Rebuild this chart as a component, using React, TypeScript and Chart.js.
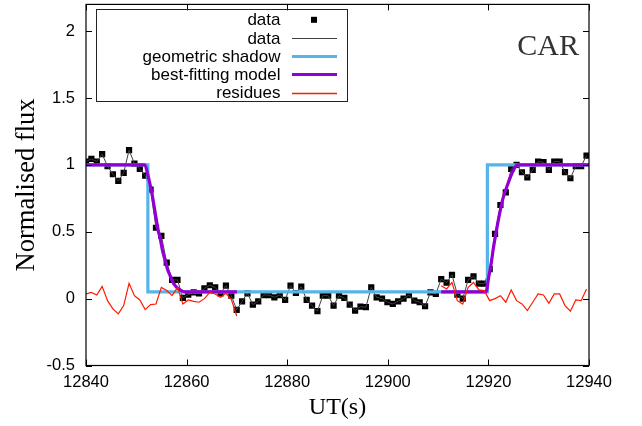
import React, { useEffect, useRef } from "react";
import { Chart, registerables } from "chart.js";

Chart.register(...registerables);

// ---- data ----
const timeS = [
  12840.0, 12841.07, 12842.14, 12843.21, 12844.28, 12845.35, 12846.42, 12847.49, 12848.56, 12849.63,
  12850.7, 12851.77, 12852.84, 12853.91, 12854.98, 12856.05, 12857.12, 12858.19, 12859.26, 12860.33,
  12861.4, 12862.47, 12863.54, 12864.61, 12865.68, 12866.75, 12867.82, 12868.89, 12869.96, 12871.03,
  12872.1, 12873.17, 12874.24, 12875.31, 12876.38, 12877.45, 12878.52, 12879.59, 12880.66, 12881.73,
  12882.8, 12883.87, 12884.94, 12886.01, 12887.08, 12888.15, 12889.22, 12890.29, 12891.36, 12892.43,
  12893.5, 12894.57, 12895.64, 12896.71, 12897.78, 12898.85, 12899.92, 12900.99, 12902.06, 12903.13,
  12904.2, 12905.27, 12906.34, 12907.41, 12908.48, 12909.55, 12910.62, 12911.69, 12912.76, 12913.83,
  12914.9, 12915.97, 12917.04, 12918.11, 12919.18, 12920.25, 12921.32, 12922.39, 12923.46, 12924.53,
  12925.6, 12926.67, 12927.74, 12928.81, 12929.88, 12930.95, 12932.02, 12933.09, 12934.16, 12935.23,
  12936.3, 12937.37, 12938.44, 12939.51,
];

const fluxData = [
  1.025, 1.045, 1.025, 1.08, 0.99, 0.93, 0.88, 0.94, 1.11, 1.01,
  0.97, 0.92, 0.815, 0.53, 0.47, 0.27, 0.14, 0.14, 0.005, 0.03,
  0.047, 0.04, 0.077, 0.1, 0.084, 0.04, 0.097, 0.022, -0.084, -0.02,
  0.04, -0.045, -0.02, 0.027, 0.027, 0.01, 0.027, -0.01, 0.097, 0.042,
  0.089, -0.01, -0.052, -0.094, 0.022, 0.022, -0.052, 0.022, 0.005, -0.045,
  -0.089, -0.06, -0.064, 0.084, 0.01, 0.0, -0.027, -0.04, -0.02, 0.0,
  0.027, -0.015, -0.027, -0.057, 0.047, 0.035, 0.146, 0.12, 0.178, 0.03,
  0.0, 0.14, 0.167, 0.112, 0.112, 0.22, 0.485, 0.7, 0.795, 0.97,
  1.0, 0.945, 0.906, 0.963, 1.025, 1.02, 0.963, 1.025, 1.025, 0.946,
  0.9, 0.99, 0.99, 1.07,
];

// residues: first 29 samples and last 28 samples
const residuesLeft = [
  0.035, 0.047, 0.027, 0.092, -0.015, -0.077, -0.114, -0.052, 0.114, 0.022,
  -0.01, -0.082, -0.045, -0.04, 0.084, 0.06, 0.022, 0.084, -0.04, -0.01,
  -0.02, -0.027, 0.0, 0.047, 0.035, 0.01, 0.04, -0.005, -0.13,
];
const residuesRight = [
  0.097, 0.072, 0.121, -0.015, -0.04, 0.084, 0.121, 0.065, 0.06, -0.015,
  0.0, 0.022, -0.027, 0.065, -0.015, -0.04, -0.089, -0.027, 0.035, 0.027,
  -0.035, 0.035, 0.035, -0.052, -0.094, -0.01, -0.015, 0.072,
];

const shadowTime = [12840, 12852.3, 12852.3, 12919.8, 12919.8, 12940];
const shadowFlux = [1, 1, 0.05, 0.05, 1, 1];

const modelTimeIngress = [
  12840, 12851.7, 12852.2, 12852.7, 12853.1, 12853.5, 12853.9, 12854.3, 12854.8, 12855.2,
  12855.7, 12856.2, 12856.8, 12857.3, 12857.9, 12858.5, 12859.1, 12859.7, 12870,
];
const modelFluxIngress = [
  1, 1, 0.94, 0.86, 0.79, 0.7, 0.61, 0.52, 0.44, 0.36,
  0.29, 0.22, 0.165, 0.12, 0.09, 0.07, 0.057, 0.05, 0.05,
];
const modelTimeEgress = [
  12910.6, 12919.5, 12920.1, 12920.5, 12921.0, 12921.5, 12922.2, 12922.9, 12923.7, 12924.6,
  12925.2, 12925.7, 12940,
];
const modelFluxEgress = [
  0.05, 0.05, 0.17, 0.25, 0.38, 0.49, 0.63, 0.75, 0.84, 0.93,
  0.975, 1.0, 1.0,
];

const xTickValues = [12840, 12860, 12880, 12900, 12920, 12940];
const yTickValues = [-0.5, 0, 0.5, 1, 1.5, 2];

const legendLabels = ["data", "data", "geometric shadow", "best-fitting model", "residues"];
const panelLabel = "CAR";

const COLORS = {
  data: "#000000",
  dataLine: "#404040",
  shadow: "#56B4E9",
  model: "#9400D3",
  residues: "#ff1a00",
};

const pts = (xs: number[], ys: number[]) => xs.map((x, i) => ({ x, y: ys[i] }));

export default function App() {
  const ref = useRef<HTMLCanvasElement | null>(null);

  useEffect(() => {
    document.body.style.margin = "0";
    const canvas = ref.current;
    if (!canvas) return;

    const framePlugin = {
      id: "frame",
      afterDraw(chart: any) {
        const { ctx, chartArea: a, scales } = chart;
        const xs = scales.x;
        const ys = scales.y;
        ctx.save();
        ctx.strokeStyle = "#000";
        ctx.lineWidth = 1.2;
        ctx.strokeRect(a.left, a.top, a.right - a.left, a.bottom - a.top);
        ctx.lineWidth = 1;
        const tl = 6;
        ctx.beginPath();
        xTickValues.forEach((v) => {
          const px = Math.round(xs.getPixelForValue(v)) + 0.5;
          ctx.moveTo(px, a.bottom);
          ctx.lineTo(px, a.bottom - tl);
          ctx.moveTo(px, a.top);
          ctx.lineTo(px, a.top + tl);
        });
        yTickValues.forEach((v) => {
          const py = Math.round(ys.getPixelForValue(v)) + 0.5;
          ctx.moveTo(a.left, py);
          ctx.lineTo(a.left + tl, py);
          ctx.moveTo(a.right, py);
          ctx.lineTo(a.right - tl, py);
        });
        ctx.stroke();

        // legend
        const bx = 96.5, by = 9.5, bw = 251, bh = 92;
        ctx.strokeStyle = "#222";
        ctx.lineWidth = 1;
        ctx.strokeRect(bx, by, bw, bh);
        ctx.font = '17px "Liberation Sans"';
        ctx.textAlign = "right";
        ctx.textBaseline = "middle";
        const rowY = (k: number) => 19.8 + 18.2 * k;
        const sx0 = 292, sx1 = 337;
        const styles: any[] = [
          null,
          [COLORS.dataLine, 1],
          [COLORS.shadow, 3],
          [COLORS.model, 3],
          [COLORS.residues, 1.4],
        ];
        legendLabels.forEach((lab, k) => {
          const y = rowY(k);
          ctx.fillStyle = "#000";
          ctx.fillText(lab, 280.5, y + 1);
          if (k === 0) {
            ctx.fillStyle = COLORS.data;
            ctx.fillRect(314 - 3, y - 3, 6, 6);
          } else {
            ctx.strokeStyle = styles[k][0];
            ctx.lineWidth = styles[k][1];
            ctx.beginPath();
            ctx.moveTo(sx0, Math.round(y) + 0.5);
            ctx.lineTo(sx1, Math.round(y) + 0.5);
            ctx.stroke();
          }
        });

        // panel label
        ctx.font = '30px "Liberation Serif"';
        ctx.fillStyle = "#333";
        ctx.textAlign = "right";
        ctx.textBaseline = "alphabetic";
        ctx.fillText(panelLabel, 579, 55);
        ctx.restore();
      },
    };

    const chart = new Chart(canvas, {
      type: "line",
      data: {
        datasets: [
          {
            label: "residues",
            data: pts(timeS.slice(0, residuesLeft.length), residuesLeft),
            borderColor: COLORS.residues,
            borderWidth: 1.2,
            pointRadius: 0,
            tension: 0,
            fill: false,
          },
          {
            label: "residues-2",
            data: pts(timeS.slice(timeS.length - residuesRight.length), residuesRight),
            borderColor: COLORS.residues,
            borderWidth: 1.2,
            pointRadius: 0,
            tension: 0,
            fill: false,
          },
          {
            label: "best-fitting model",
            data: pts(modelTimeIngress, modelFluxIngress),
            borderColor: COLORS.model,
            borderWidth: 3.2,
            pointRadius: 0,
            cubicInterpolationMode: "monotone",
            fill: false,
          },
          {
            label: "best-fitting model-2",
            data: pts(modelTimeEgress, modelFluxEgress),
            borderColor: COLORS.model,
            borderWidth: 3.2,
            pointRadius: 0,
            cubicInterpolationMode: "monotone",
            fill: false,
          },
          {
            label: "geometric shadow",
            data: pts(shadowTime, shadowFlux),
            borderColor: COLORS.shadow,
            borderWidth: 3.2,
            pointRadius: 0,
            tension: 0,
            fill: false,
          },
          {
            label: "data line",
            data: pts(timeS, fluxData),
            borderColor: COLORS.dataLine,
            borderWidth: 1,
            pointRadius: 0,
            tension: 0,
            fill: false,
          },
          {
            label: "data",
            data: pts(timeS, fluxData),
            showLine: false,
            pointStyle: "rect",
            pointRadius: 4.4,
            pointBackgroundColor: COLORS.data,
            pointBorderColor: COLORS.data,
            pointBorderWidth: 0,
          },
        ],
      },
      options: {
        responsive: false,
        animation: false,
        devicePixelRatio: 1,
        layout: { padding: { top: 3, right: 53, left: 0, bottom: 0 } },
        plugins: {
          legend: { display: false },
          tooltip: { enabled: false },
        },
        scales: {
          x: {
            type: "linear",
            min: 12840,
            max: 12940,
            grid: { display: false, drawTicks: false },
            border: { display: false },
            afterBuildTicks: (s: any) => {
              s.ticks = xTickValues.map((v) => ({ value: v }));
            },
            afterFit: (s: any) => {
              s.height = 60.5;
              s.paddingLeft = 0;
              s.paddingRight = 0;
            },
            ticks: {
              autoSkip: false,
              maxRotation: 0,
              padding: 7,
              color: "#000",
              font: { family: "Liberation Sans", size: 16.5 },
              callback: (v: any) => String(v),
            },
            title: {
              display: true,
              text: "UT(s)",
              color: "#000",
              font: { family: "Liberation Serif", size: 24 },
              padding: { top: 0, bottom: 4 },
            },
          },
          y: {
            type: "linear",
            min: -0.5,
            max: 2.2,
            grid: { display: false, drawTicks: false },
            border: { display: false },
            afterBuildTicks: (s: any) => {
              s.ticks = yTickValues.map((v) => ({ value: v }));
            },
            afterFit: (s: any) => {
              s.width = 86;
              s.paddingTop = 0;
              s.paddingBottom = 0;
            },
            ticks: {
              autoSkip: false,
              padding: 11,
              color: "#000",
              font: { family: "Liberation Sans", size: 16.5 },
              callback: (v: any) => String(v),
            },
            title: {
              display: true,
              text: "Normalised flux",
              color: "#000",
              font: { family: "Liberation Serif", size: 26.5 },
              padding: { top: 11, bottom: 0 },
            },
          },
        },
      },
      plugins: [framePlugin],
    } as any);

    return () => chart.destroy();
  }, []);

  return (
    <div style={{ width: 642, height: 426 }}>
      <canvas ref={ref} width={642} height={426} style={{ display: "block" }} />
    </div>
  );
}
